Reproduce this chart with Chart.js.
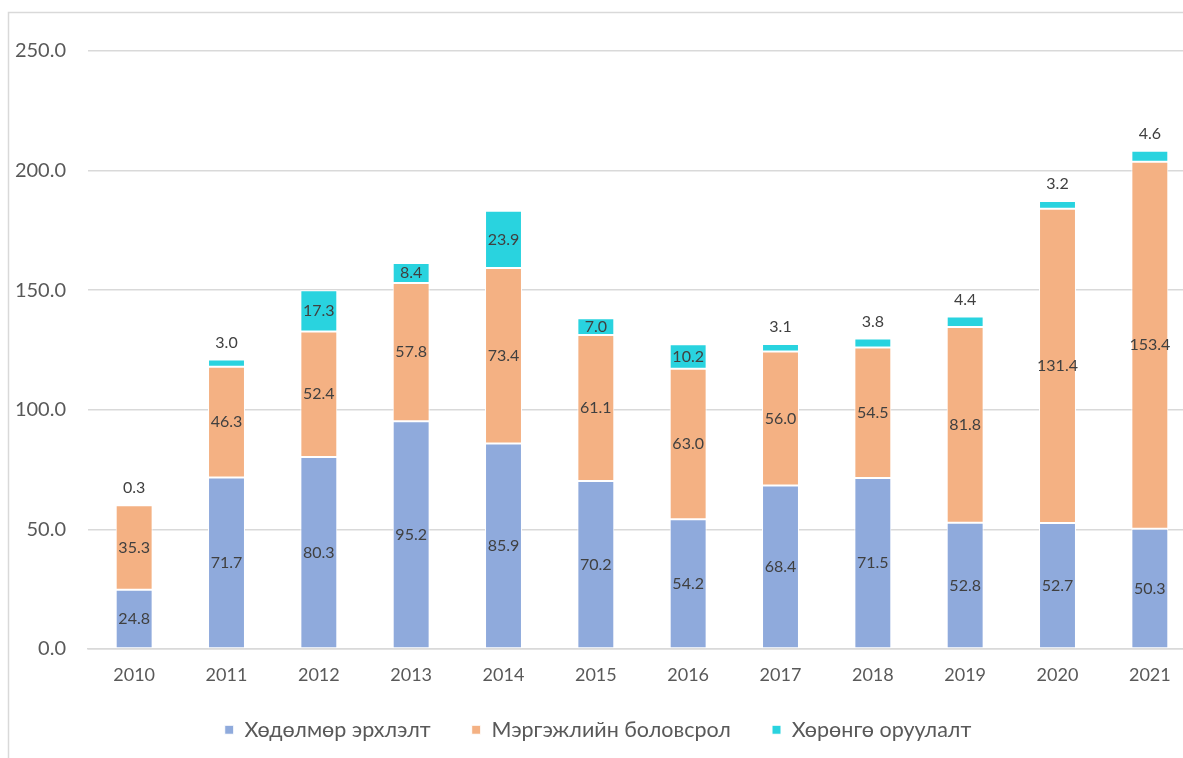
<!DOCTYPE html>
<html>
<head>
<meta charset="utf-8">
<script src="https://cdn.jsdelivr.net/npm/chart.js@4"></script>
<style>
  html, body { margin: 0; padding: 0; background: #fff; overflow: hidden; }
  canvas { display: block; }
</style>
</head>
<body>
<canvas id="chart" width="1200" height="758"></canvas>
<script>
const years = ['2010', '2011', '2012', '2013', '2014', '2015', '2016', '2017', '2018', '2019', '2020', '2021'];
const employment = [24.8, 71.7, 80.3, 95.2, 85.9, 70.2, 54.2, 68.4, 71.5, 52.8, 52.7, 50.3];
const education = [35.3, 46.3, 52.4, 57.8, 73.4, 61.1, 63.0, 56.0, 54.5, 81.8, 131.4, 153.4];
const investment = [0.3, 3.0, 17.3, 8.4, 23.9, 7.0, 10.2, 3.1, 3.8, 4.4, 3.2, 4.6];
const seriesNames = ['Хөдөлмөр эрхлэлт', 'Мэргэжлийн боловсрол', 'Хөрөнгө оруулалт'];
const seriesColors = ['#8FAADC', '#F4B183', '#29D3DF'];
const yTicks = [0, 50, 100, 150, 200, 250];

const FONT = 'Lato, "Open Sans", sans-serif';

// light frame on the left and top, like the original chart box
const framePlugin = {
  id: 'frame',
  beforeDraw(chart) {
    const ctx = chart.ctx;
    ctx.save();
    ctx.strokeStyle = '#d9d9d9';
    ctx.lineWidth = 1.5;
    ctx.beginPath();
    ctx.moveTo(8.5, chart.height);
    ctx.lineTo(8.5, 12.5);
    ctx.lineTo(chart.width, 12.5);
    ctx.stroke();
    ctx.restore();
  }
};

// value labels: centred in each segment, small top segments get theirs above the bar
const valueLabels = {
  id: 'valueLabels',
  afterDatasetsDraw(chart) {
    const ctx = chart.ctx;
    ctx.save();
    ctx.font = '16px ' + FONT;
    ctx.fillStyle = '#404040';
    ctx.textAlign = 'center';
    ctx.textBaseline = 'middle';
    chart.data.datasets.forEach((ds, di) => {
      const meta = chart.getDatasetMeta(di);
      meta.data.forEach((bar, i) => {
        const v = ds.data[i];
        const p = bar.getProps(['x', 'y', 'base'], true);
        let y = (p.y + p.base) / 2;
        if (di === seriesNames.length - 1 && v < 5) y = p.y - 17;
        ctx.fillText(v.toFixed(1), p.x, y);
      });
    });
    ctx.restore();
  }
};

new Chart(document.getElementById('chart'), {
  type: 'bar',
  data: {
    labels: years,
    datasets: [employment, education, investment].map((d, i) => ({
      label: seriesNames[i],
      data: d,
      backgroundColor: seriesColors[i],
      borderColor: '#ffffff',
      borderWidth: 1,
      borderSkipped: false,
      barPercentage: 0.4,
      categoryPercentage: 1
    }))
  },
  options: {
    responsive: false,
    animation: false,
    layout: { padding: { top: 51, right: 4, bottom: 7.5, left: 0 } },
    plugins: {
      legend: {
        position: 'bottom',
        labels: {
          boxWidth: 9,
          boxHeight: 9,
          padding: 25,
          color: '#595959',
          font: { family: FONT, size: 21.5 },
          // wider gap between items than the vertical padding allows
          generateLabels(chart) {
            const items = Chart.defaults.plugins.legend.labels.generateLabels(chart);
            items.forEach((it, i) => { if (i < items.length - 1) it.text += '\u2003'; });
            return items;
          }
        }
      },
      tooltip: { enabled: false }
    },
    scales: {
      x: {
        stacked: true,
        grid: { display: false, drawTicks: false },
        border: { color: '#d9d9d9', width: 1.5 },
        ticks: { color: '#595959', padding: 15, font: { family: FONT, size: 18 } },
        afterFit(scale) { scale.height = 45; }
      },
      y: {
        stacked: true,
        min: 0,
        max: 250,
        afterBuildTicks(scale) { scale.ticks = yTicks.map(v => ({ value: v })); },
        grid: { color: '#d9d9d9', lineWidth: 1.5, drawTicks: false },
        border: { display: false },
        ticks: {
          color: '#595959',
          padding: 22,
          font: { family: FONT, size: 20 },
          callback: v => v.toFixed(1)
        },
        afterFit(scale) { scale.width = 88; }
      }
    }
  },
  plugins: [framePlugin, valueLabels]
});
</script>
</body>
</html>
